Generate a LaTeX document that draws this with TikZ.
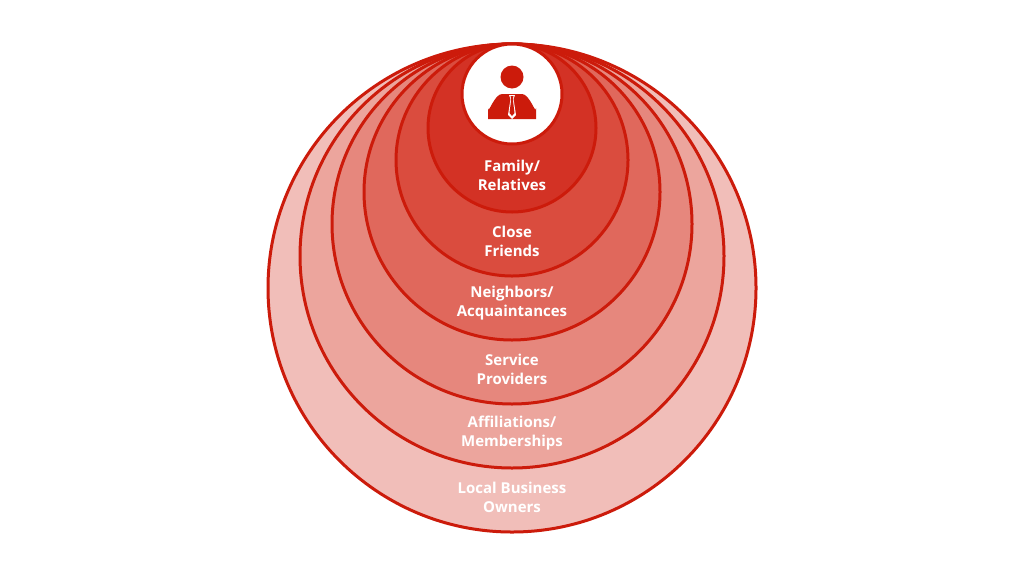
\documentclass[tikz,border=0pt]{standalone}
\usepackage{fontspec}
\setmainfont{Open Sans}
\begin{document}
\begin{tikzpicture}[x=1pt,y=-1pt,
  ring/.style={draw=ringred,line width=3pt},
  lbl/.style={text=white,font=\bfseries\fontsize{15}{19}\selectfont,align=center}]
\definecolor{ringred}{HTML}{CC1B0B}
\definecolor{c1}{HTML}{F1BEB9}
\definecolor{c2}{HTML}{ECA59D}
\definecolor{c3}{HTML}{E6877D}
\definecolor{c4}{HTML}{E0685C}
\definecolor{c5}{HTML}{DA4C3E}
\definecolor{c6}{HTML}{D33225}
\useasboundingbox (0,0) rectangle (1024,576);
\fill[white] (0,0) rectangle (1024,576);
\draw[ring,fill=c1] (512,288) circle (244);
\draw[ring,fill=c2] (512,256) circle (212);
\draw[ring,fill=c3] (512,224) circle (180);
\draw[ring,fill=c4] (512,192) circle (148);
\draw[ring,fill=c5] (512,160) circle (116);
\draw[ring,fill=c6] (512,128) circle (84);
\draw[ring,fill=white] (512,94) circle (50);
% person icon
\fill[ringred] (512,77) circle (11.5);
\fill[ringred] (488,119) -- (488,108) to[out=-90,in=180] (502,94) -- (522,94) to[out=0,in=-90] (536,108) -- (536,119) -- cycle;
\fill[white] (509,95) -- (515,95) -- (513.5,99) -- (516,115) -- (512,119) -- (508,115) -- (510.5,99) -- cycle;
\fill[ringred] (510.5,96) -- (513.5,96) -- (512.8,99) -- (514.5,113) -- (512,116) -- (509.5,113) -- (511.2,99) -- cycle;
\node[lbl] (l6) at (512,175) {Family/\\Relatives};
\node[lbl] (l5) at (512,241) {Close\\Friends};
\node[lbl] (l4) at (512,303) {Neighbors/\\Acquaintances};
\node[lbl] (l3) at (512,369) {Service\\Providers};
\node[lbl] (l2) at (512,433) {Affiliations/\\Memberships};
\node[lbl] (l1) at (512,497) {Local Business\\Owners};
\end{tikzpicture}
\end{document}
